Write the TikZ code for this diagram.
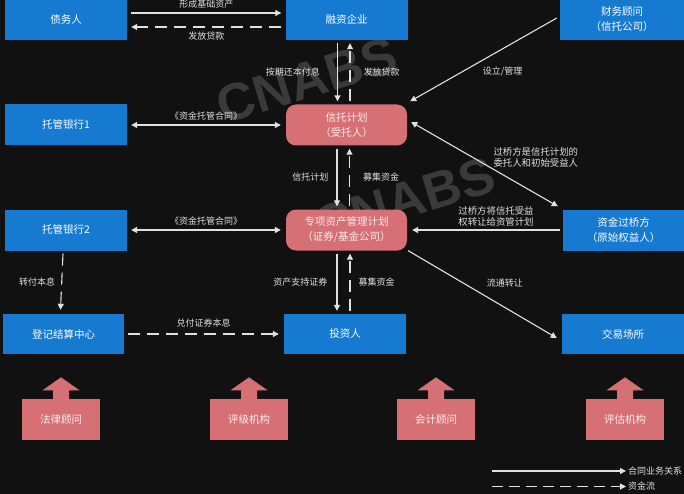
\documentclass[tikz,border=0pt]{standalone}
\usepackage{fontspec}
\setmainfont{Noto Sans CJK SC}
\newfontfamily\markfont{Liberation Sans}
\usetikzlibrary{arrows.meta}
\definecolor{bgdark}{RGB}{17,17,17}
\definecolor{boxblue}{RGB}{22,122,208}
\definecolor{boxpink}{RGB}{214,112,117}
\definecolor{linegray}{RGB}{225,225,225}
\definecolor{markgray}{RGB}{58,58,58}

\begin{document}
\begin{tikzpicture}[x=1pt,y=-1pt]
  \tikzstyle{party}=[fill=boxblue,text=white,minimum width=122pt,minimum height=41pt,inner sep=0pt,align=center,font=\fontsize{10.5}{15}\selectfont]
  \tikzstyle{plan}=[party,fill=boxpink,text=white!88!boxpink,rounded corners=10pt]
  \tikzstyle{agency}=[fill=boxpink,text=white!88!boxpink,minimum width=78pt,minimum height=41pt,inner sep=0pt,font=\fontsize{10.5}{15}\selectfont]
  \tikzstyle{contract}=[draw=linegray,line width=1.1pt,-{Triangle[length=6pt,width=6pt]}]
  \tikzstyle{cash}=[contract,dash pattern=on 12pt off 7pt]
  \tikzstyle{mutual}=[contract,{Triangle[length=6pt,width=6pt]}-{Triangle[length=6pt,width=6pt]}]
  \tikzstyle{note}=[text=linegray,font=\fontsize{9}{11}\selectfont,inner sep=1pt,align=center]
  \tikzstyle{watermark}=[text=markgray,font=\markfont\bfseries\fontsize{52}{52}\selectfont,rotate=17]

  \fill[bgdark] (0,0) rectangle (684,494);
  \useasboundingbox (0,0) rectangle (684,494);

  \node[watermark] (mark1) at (307,80) {CNABS};
  \node[watermark] (mark2) at (405,200) {CNABS};

  % parties
  \node[party] (debtor) at (66,19.5) {债务人};
  \node[party] (firm) at (346.5,19.5) {融资企业};
  \node[party,minimum width=124pt] (advisor) at (622,19.5) {财务顾问\\（信托公司）};
  \node[party] (bank1) at (66,125) {托管银行1};
  \node[plan,minimum width=121pt] (trust) at (346.5,125) {信托计划\\（受托人）};
  \node[party] (bank2) at (66,230) {托管银行2};
  \node[plan,minimum width=121pt] (sam) at (346.5,230) {专项资产管理计划\\（证券/基金公司）};
  \node[party,minimum width=121pt] (bridge) at (623.5,230) {资金过桥方\\（原始权益人）};
  \node[party,minimum width=121pt,minimum height=40pt] (clear) at (63.5,334) {登记结算中心};
  \node[party,minimum height=40pt] (investor) at (345,334) {投资人};
  \node[party,minimum height=40pt] (exchange) at (623,334) {交易场所};

  % links
  \draw[contract] ([shift={(4pt,6.5pt)}]debtor.east) -- ([shift={(-4pt,6.5pt)}]firm.west) node[note,midway,above=3pt] {形成基础资产};
  \draw[cash] ([shift={(-4pt,-7.5pt)}]firm.west) -- ([shift={(4pt,-7.5pt)}]debtor.east) node[note,midway,below=3pt] {发放贷款};
  \draw[contract] ([shift={(-9pt,-3pt)}]firm.south) -- ([shift={(-9pt,3pt)}]trust.north) node[note,midway,left=16pt] {按期还本付息};
  \draw[cash] ([shift={(3.5pt,3pt)}]trust.north) -- ([shift={(3.5pt,-3pt)}]firm.south) node[note,midway,right=12pt] {发放贷款};
  \draw[contract] ([shift={(-3pt,1.5pt)}]advisor.west) -- ([shift={(3pt,3pt)}]trust.north east) node[note,pos=0.37,yshift=-23pt] {设立/管理};
  \draw[mutual] ([xshift=4pt]bank1.east) -- ([xshift=-5pt]trust.west) node[note,midway,above=3pt] {《资金托管合同》};
  \draw[contract] ([shift={(-9.5pt,-3pt)}]trust.south) -- ([shift={(-9.5pt,3pt)}]sam.north) node[note,midway,left=7pt] {信托计划};
  \draw[cash] ([shift={(3pt,3pt)}]sam.north) -- ([shift={(3pt,-3pt)}]trust.south) node[note,midway,right=12pt] {募集资金};
  \draw[mutual] ([shift={(4pt,3pt)}]trust.east) -- ([shift={(-5pt,3pt)}]bridge.north west) node[note,pos=0.85,yshift=36pt,font=\fontsize{9.4}{11}\selectfont] {过桥方是信托计划的\\委托人和初始受益人};
  \draw[contract] ([xshift=-3pt]bridge.west) -- ([xshift=5pt]sam.east) node[note,midway,above=2pt,xshift=10pt,font=\fontsize{9.4}{11}\selectfont] {过桥方将信托受益\\权转让给资管计划};
  \draw[mutual] ([xshift=4pt]bank2.east) -- ([xshift=-5pt]sam.west) node[note,midway,above=3pt] {《资金托管合同》};
  \draw[cash] ([shift={(-3pt,-3pt)}]bank2.south) -- ([shift={(-3pt,4pt)}]clear.north) node[note,midway,left=5pt] {转付本息};
  \draw[contract] ([shift={(-9.5pt,-3pt)}]sam.south) -- ([shift={(-8pt,3pt)}]investor.north) node[note,midway,left=8pt] {资产支持证券};
  \draw[cash] ([shift={(5pt,3pt)}]investor.north) -- ([shift={(3.5pt,-3pt)}]sam.south) node[note,midway,right=7pt] {募集资金};
  \draw[contract] ([xshift=1pt]sam.south east) -- ([shift={(-5pt,-4pt)}]exchange.west) node[note,pos=0.65,yshift=24pt] {流通转让};
  \draw[cash] ([xshift=4pt]clear.east) -- ([xshift=-5pt]investor.west) node[note,midway,above=5pt] {兑付证券本息};

  % agencies with up arrows
  \node[agency] (law) at (61,419.5) {法律顾问};
  \node[agency] (rating) at (249,419.5) {评级机构};
  \node[agency] (account) at (436,419.5) {会计顾问};
  \node[agency] (valuer) at (625,419.5) {评估机构};
  \fill[boxpink] ([shift={(-8pt,-0.5pt)}]law.north) -- ++(0,-9) -- ++(-10.5,0) -- ++(18.5,-13) -- ++(18.5,13) -- ++(-10.5,0) -- ++(0,9) -- cycle;
  \fill[boxpink] ([shift={(-8pt,-0.5pt)}]rating.north) -- ++(0,-9) -- ++(-10.5,0) -- ++(18.5,-13) -- ++(18.5,13) -- ++(-10.5,0) -- ++(0,9) -- cycle;
  \fill[boxpink] ([shift={(-8pt,-0.5pt)}]account.north) -- ++(0,-9) -- ++(-10.5,0) -- ++(18.5,-13) -- ++(18.5,13) -- ++(-10.5,0) -- ++(0,9) -- cycle;
  \fill[boxpink] ([shift={(-8pt,-0.5pt)}]valuer.north) -- ++(0,-9) -- ++(-10.5,0) -- ++(18.5,-13) -- ++(18.5,13) -- ++(-10.5,0) -- ++(0,9) -- cycle;

  % legend
  \node[note,anchor=west] (legcontract) at (627,471) {合同业务关系};
  \node[note,anchor=west] (legcash) at (627,486.5) {资金流};
  \coordinate (legA) at (492,471);
  \coordinate (legB) at (492,486.5);
  \draw[contract] (legA) -- ([xshift=-1pt]legcontract.west);
  \draw[cash,dash pattern=on 11pt off 6pt] (legB) -- ([xshift=-1pt]legcash.west);
\end{tikzpicture}
\end{document}
